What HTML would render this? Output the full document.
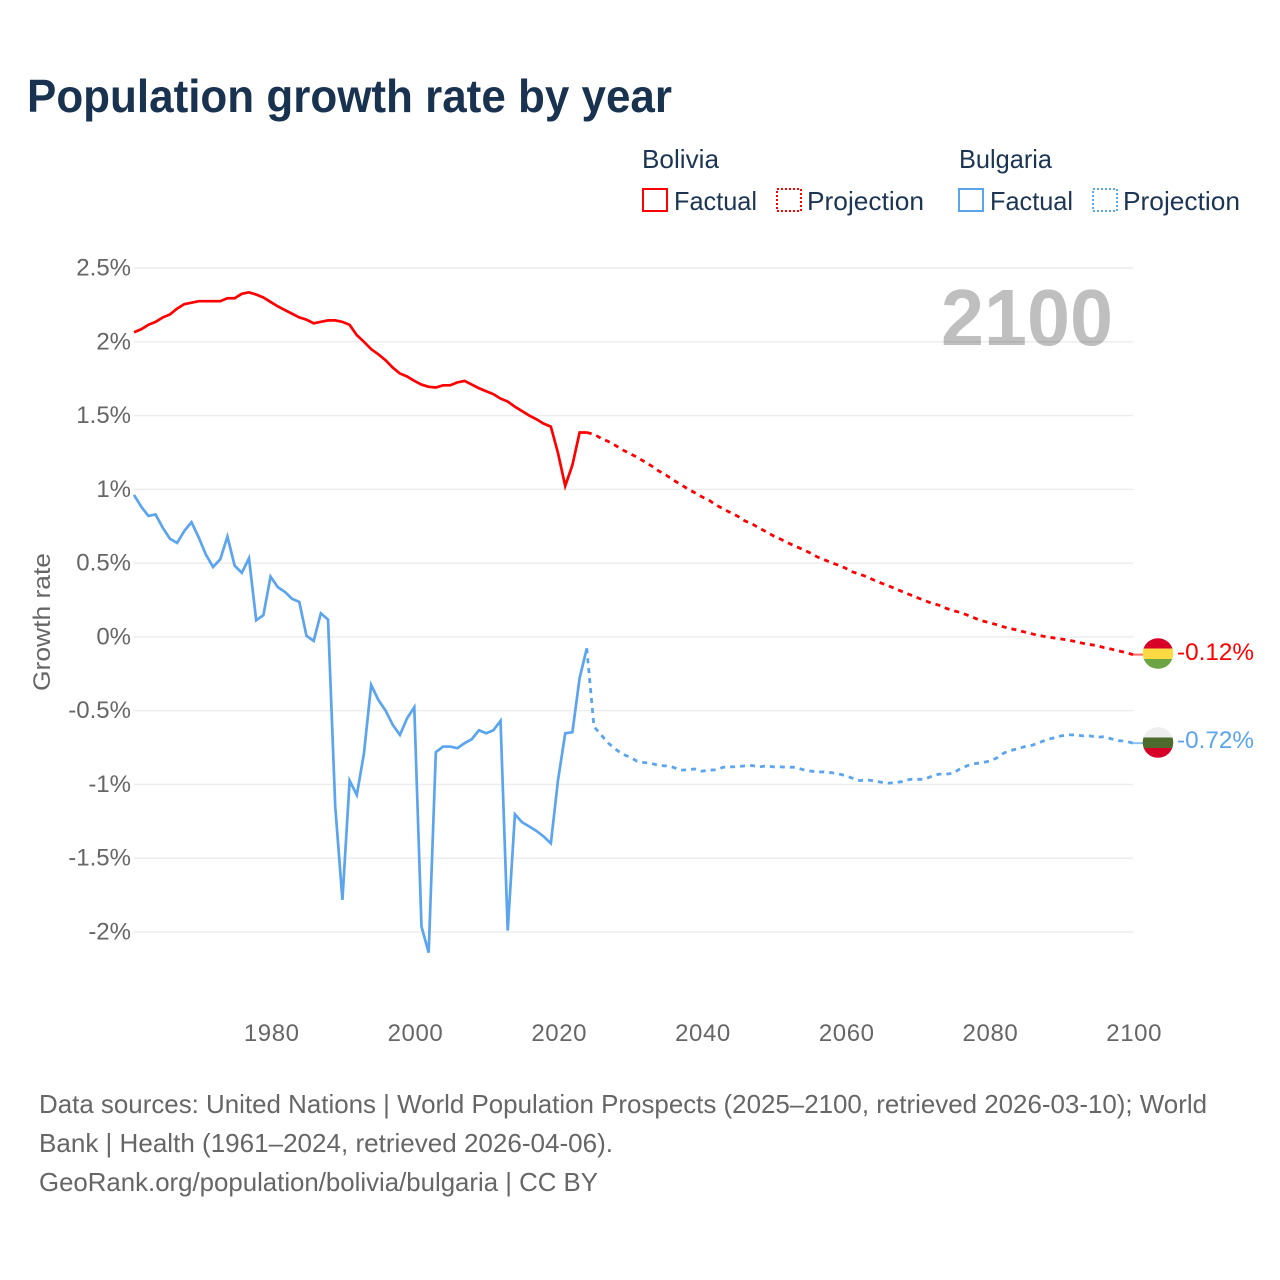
<!DOCTYPE html>
<html lang="en">
<head>
<meta charset="utf-8">
<title>Population growth rate by year</title>
<style>
html,body{margin:0;padding:0;background:#fff;width:1280px;height:1280px;overflow:hidden}
svg{display:block;font-family:"Liberation Sans",sans-serif}
.legend{font-size:26px;fill:#1b3553}
.foot{font-size:26px;fill:#666}
.tick{font-size:24px;fill:#666}
</style>
</head>
<body>
<svg id="chart" xmlns="http://www.w3.org/2000/svg" width="1280" height="1280" viewBox="0 0 1280 1280">
  <defs>
    <clipPath id="flag-clip-bolivia"><circle cx="1158" cy="653.5" r="15.3"/></clipPath>
    <clipPath id="flag-clip-bulgaria"><circle cx="1158" cy="742.5" r="15.3"/></clipPath>
  </defs>

  <text x="27" y="112" font-size="46" font-weight="700" fill="#18324f" textLength="645" lengthAdjust="spacingAndGlyphs">Population growth rate by year</text>

  <g>
    <text class="legend" x="642" y="168" textLength="77" lengthAdjust="spacingAndGlyphs">Bolivia</text>
    <text class="legend" x="959" y="168" textLength="93" lengthAdjust="spacingAndGlyphs">Bulgaria</text>
    <rect x="643" y="189" width="24" height="22" fill="none" stroke="#ff0000" stroke-width="2"/>
    <text class="legend" x="674" y="210" textLength="83" lengthAdjust="spacingAndGlyphs">Factual</text>
    <rect x="777" y="189" width="24" height="22" fill="none" stroke="#ff0000" stroke-width="2" stroke-dasharray="2 2"/>
    <text class="legend" x="807" y="210" textLength="117" lengthAdjust="spacingAndGlyphs">Projection</text>
    <rect x="959" y="189" width="24" height="22" fill="none" stroke="#5ba4ee" stroke-width="2"/>
    <text class="legend" x="990" y="210" textLength="83" lengthAdjust="spacingAndGlyphs">Factual</text>
    <rect x="1093" y="189" width="24" height="22" fill="none" stroke="#5ba4ee" stroke-width="2" stroke-dasharray="2 2"/>
    <text class="legend" x="1123" y="210" textLength="117" lengthAdjust="spacingAndGlyphs">Projection</text>
  </g>

  <g id="grid"></g>
  <text x="941" y="345" font-size="80" font-weight="700" fill="#000" fill-opacity="0.25" textLength="172" lengthAdjust="spacingAndGlyphs">2100</text>
  <g id="y-ticks"></g>
  <g id="x-ticks"></g>
  <text class="tick" transform="translate(50,691) rotate(-90)" textLength="138" lengthAdjust="spacingAndGlyphs">Growth rate</text>

  <g id="series"></g>

  <g clip-path="url(#flag-clip-bolivia)">
    <rect x="1142" y="638" width="32" height="11" fill="#d80027"/>
    <rect x="1142" y="648.5" width="32" height="10.5" fill="#ffda44"/>
    <rect x="1142" y="659" width="32" height="11" fill="#6da544"/>
  </g>
  <text x="1177" y="660" font-size="24" fill="#ff0000" textLength="77" lengthAdjust="spacingAndGlyphs">-0.12%</text>
  <g clip-path="url(#flag-clip-bulgaria)">
    <rect x="1142" y="727" width="32" height="10.5" fill="#eeeeee"/>
    <rect x="1142" y="737.5" width="32" height="10.5" fill="#4c6b2c"/>
    <rect x="1142" y="748" width="32" height="11" fill="#d80027"/>
  </g>
  <text x="1177" y="748" font-size="24" fill="#5ba4ee" textLength="77" lengthAdjust="spacingAndGlyphs">-0.72%</text>

  <g>
    <text class="foot" x="39" y="1113" textLength="1168" lengthAdjust="spacingAndGlyphs">Data sources: United Nations | World Population Prospects (2025–2100, retrieved 2026-03-10); World</text>
    <text class="foot" x="39" y="1152" textLength="574" lengthAdjust="spacingAndGlyphs">Bank | Health (1961–2024, retrieved 2026-04-06).</text>
    <text class="foot" x="39" y="1191" textLength="559" lengthAdjust="spacingAndGlyphs">GeoRank.org/population/bolivia/bulgaria | CC BY</text>
  </g>
</svg>
<script>
const factualStartYear = 1961;
const projectionStartYear = 2024;
const xTickYears = [1980, 2000, 2020, 2040, 2060, 2080, 2100];
const yTickValues = [2.5, 2, 1.5, 1, 0.5, 0, -0.5, -1, -1.5, -2];
const yTickLabels = ['2.5%', '2%', '1.5%', '1%', '0.5%', '0%', '-0.5%', '-1%', '-1.5%', '-2%'];

const boliviaFactual = [2.065,2.085,2.115,2.135,2.165,2.185,2.225,2.255,2.265,2.275,2.275,2.275,2.275,2.295,2.295,2.325,2.335,2.32,2.30,2.27,2.24,2.215,2.19,2.165,2.15,2.125,2.135,2.145,2.145,2.135,2.115,2.045,2.0,1.95,1.915,1.875,1.825,1.785,1.765,1.735,1.71,1.695,1.69,1.705,1.705,1.725,1.735,1.71,1.685,1.665,1.645,1.615,1.595,1.56,1.53,1.50,1.475,1.445,1.425,1.245,1.023,1.165,1.385,1.385];
const boliviaProjection = [1.385,1.373,1.346,1.324,1.297,1.267,1.242,1.218,1.188,1.159,1.125,1.098,1.064,1.035,1.005,0.978,0.95,0.926,0.894,0.867,0.842,0.818,0.786,0.766,0.737,0.712,0.684,0.662,0.637,0.615,0.594,0.571,0.544,0.524,0.504,0.486,0.466,0.44,0.425,0.407,0.384,0.364,0.346,0.325,0.305,0.285,0.266,0.246,0.228,0.215,0.194,0.178,0.165,0.147,0.127,0.108,0.097,0.083,0.068,0.056,0.045,0.032,0.02,0.009,0.0,-0.007,-0.014,-0.022,-0.032,-0.043,-0.052,-0.059,-0.073,-0.083,-0.095,-0.106,-0.12];
const bulgariaFactual = [0.962,0.883,0.82,0.83,0.74,0.665,0.637,0.718,0.777,0.675,0.558,0.474,0.526,0.68,0.483,0.434,0.533,0.113,0.147,0.409,0.337,0.305,0.258,0.237,0.007,-0.027,0.16,0.117,-1.15,-1.782,-0.974,-1.071,-0.788,-0.325,-0.427,-0.499,-0.596,-0.664,-0.551,-0.477,-1.963,-2.14,-0.781,-0.743,-0.743,-0.754,-0.72,-0.693,-0.633,-0.653,-0.633,-0.569,-1.99,-1.202,-1.256,-1.285,-1.315,-1.353,-1.399,-0.97,-0.653,-0.646,-0.28,-0.077];
const bulgariaProjection = [-0.077,-0.608,-0.664,-0.72,-0.761,-0.795,-0.815,-0.842,-0.852,-0.856,-0.872,-0.874,-0.883,-0.903,-0.901,-0.895,-0.91,-0.903,-0.901,-0.883,-0.881,-0.879,-0.874,-0.872,-0.881,-0.874,-0.881,-0.881,-0.883,-0.883,-0.899,-0.908,-0.915,-0.915,-0.92,-0.928,-0.94,-0.958,-0.974,-0.969,-0.976,-0.985,-0.991,-0.987,-0.98,-0.965,-0.965,-0.965,-0.944,-0.93,-0.93,-0.924,-0.892,-0.872,-0.859,-0.852,-0.842,-0.822,-0.788,-0.77,-0.757,-0.743,-0.734,-0.716,-0.696,-0.684,-0.671,-0.664,-0.664,-0.671,-0.671,-0.68,-0.676,-0.691,-0.703,-0.707,-0.72];

const NS = 'http://www.w3.org/2000/svg';
const RED = '#ff0000';
const BLUE = '#5ba4ee';

function xScale(year) { return 134 + (year - 1961) * 7.187; }
function yScale(value) { return 636.9 - value * 147.56; }

function linePath(values, startYear) {
  return values.map(function (v, i) {
    return (i ? 'L' : 'M') + xScale(startYear + i).toFixed(2) + ' ' + yScale(v).toFixed(2);
  }).join('');
}

const grid = document.getElementById('grid');
const yTicks = document.getElementById('y-ticks');
yTickValues.forEach(function (value, i) {
  const y = yScale(value);
  const line = document.createElementNS(NS, 'line');
  
  
  line.setAttribute('x1', xScale(1961));
  line.setAttribute('x2', xScale(2100));
  line.setAttribute('y1', y);
  line.setAttribute('y2', y);
  line.setAttribute('stroke', '#ececec');
  line.setAttribute('stroke-width', '1.4');
  grid.appendChild(line);

  const label = document.createElementNS(NS, 'text');
  
  
  label.setAttribute('class', 'tick');
  label.setAttribute('x', 131);
  label.setAttribute('y', y + 7.5);
  label.setAttribute('text-anchor', 'end');
  label.textContent = yTickLabels[i];
  yTicks.appendChild(label);
});

const xTicks = document.getElementById('x-ticks');
xTickYears.forEach(function (year) {
  const label = document.createElementNS(NS, 'text');
  
  
  label.setAttribute('class', 'tick');
  label.setAttribute('x', xScale(year) + 1.2);
  label.setAttribute('y', 1041);
  label.setAttribute('text-anchor', 'middle');
  label.setAttribute('letter-spacing', '0.6');
  label.textContent = String(year);
  xTicks.appendChild(label);
});

const series = document.getElementById('series');

const projB = document.createElementNS(NS, 'path');


projB.setAttribute('d', linePath(bulgariaProjection, projectionStartYear));
projB.setAttribute('fill', 'none');
projB.setAttribute('stroke', BLUE);
projB.setAttribute('stroke-width', '2.8');
projB.setAttribute('stroke-dasharray', '5 5');
series.appendChild(projB);

const factB = document.createElementNS(NS, 'path');


factB.setAttribute('d', linePath(bulgariaFactual, factualStartYear));
factB.setAttribute('fill', 'none');
factB.setAttribute('stroke', BLUE);
factB.setAttribute('stroke-width', '2.7');
series.appendChild(factB);

const projR = document.createElementNS(NS, 'path');


projR.setAttribute('d', linePath(boliviaProjection, projectionStartYear));
projR.setAttribute('fill', 'none');
projR.setAttribute('stroke', RED);
projR.setAttribute('stroke-width', '2.8');
projR.setAttribute('stroke-dasharray', '5 5');
series.appendChild(projR);

const factR = document.createElementNS(NS, 'path');


factR.setAttribute('d', linePath(boliviaFactual, factualStartYear));
factR.setAttribute('fill', 'none');
factR.setAttribute('stroke', RED);
factR.setAttribute('stroke-width', '2.7');
series.appendChild(factR);

const leaderR = document.createElementNS(NS, 'line');


leaderR.setAttribute('x1', xScale(2100));
leaderR.setAttribute('x2', 1144);
leaderR.setAttribute('y1', yScale(boliviaProjection[boliviaProjection.length - 1]));
leaderR.setAttribute('y2', yScale(boliviaProjection[boliviaProjection.length - 1]));
leaderR.setAttribute('stroke', RED);
leaderR.setAttribute('stroke-opacity', '0.6');
leaderR.setAttribute('stroke-width', '2');
series.appendChild(leaderR);

const leaderB = document.createElementNS(NS, 'line');


leaderB.setAttribute('x1', xScale(2100));
leaderB.setAttribute('x2', 1144);
leaderB.setAttribute('y1', yScale(bulgariaProjection[bulgariaProjection.length - 1]));
leaderB.setAttribute('y2', yScale(bulgariaProjection[bulgariaProjection.length - 1]));
leaderB.setAttribute('stroke', BLUE);
leaderB.setAttribute('stroke-opacity', '0.7');
leaderB.setAttribute('stroke-width', '2');
series.appendChild(leaderB);
</script>
</body>
</html>
